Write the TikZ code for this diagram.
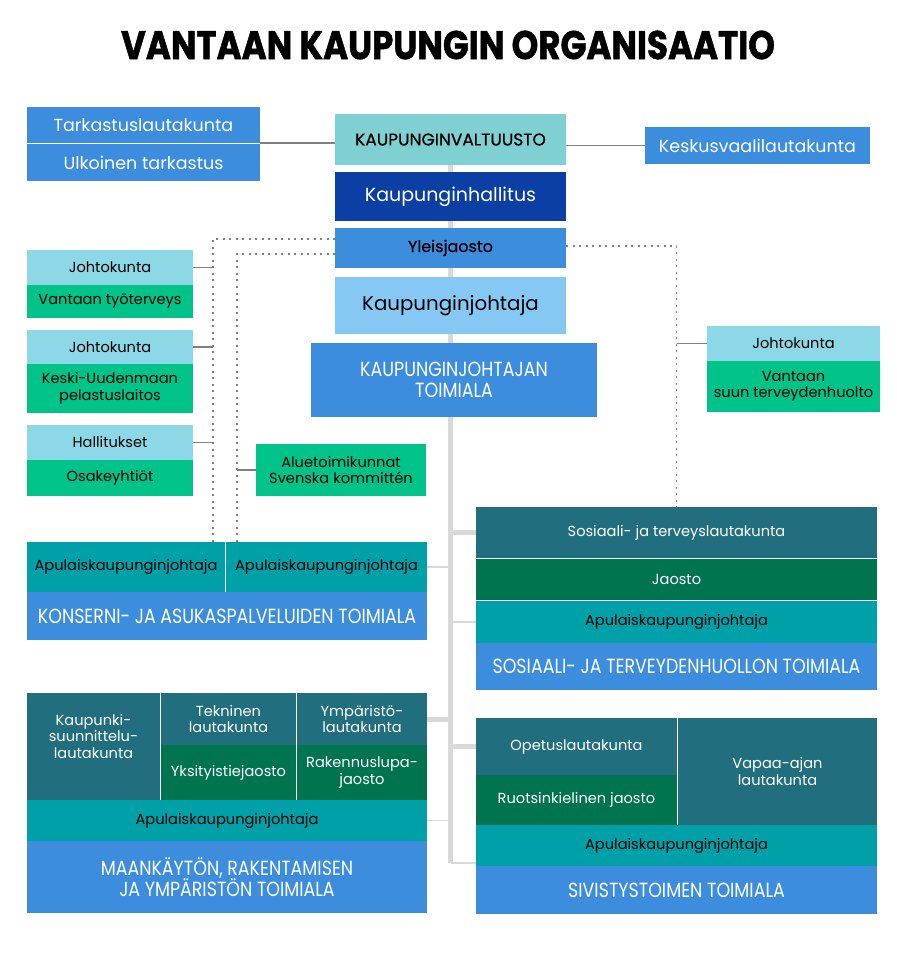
\documentclass[tikz,border=0pt]{standalone}
\usepackage{fontspec}
\setmainfont{Poppins}
\newfontfamily\capsfont[FakeStretch=0.85]{Poppins}
\newfontfamily\medfont[FakeBold=0.6]{Poppins}
\newfontfamily\titlefont[FakeStretch=0.85,FakeBold=1.2]{Poppins}
\usepackage{tikz}
\usetikzlibrary{positioning,backgrounds}
\definecolor{vblue}{HTML}{3C8DDE}
\definecolor{vdark}{HTML}{0B3FA3}
\definecolor{vlight}{HTML}{86C8F4}
\definecolor{vaqua}{HTML}{7FD0D3}
\definecolor{vcyan}{HTML}{8CD8E7}
\definecolor{vgreen}{HTML}{00C389}
\definecolor{vpetrol}{HTML}{216F7E}
\definecolor{vforest}{HTML}{00734F}
\definecolor{vteal}{HTML}{00A0A9}
\definecolor{vtrunk}{HTML}{D9D9D9}
\definecolor{vline}{HTML}{808080}

\begin{document}
\begin{tikzpicture}[x=1pt,y=-1pt,node distance=0pt,inner sep=0pt,outer sep=0pt]
  \tikzstyle{box}=[rectangle,align=center,font=\fontsize{14.6}{16.5}\selectfont]
  \tikzstyle{bluebox}=[box,fill=vblue,text=white]
  \tikzstyle{darkbox}=[box,fill=vdark,text=white]
  \tikzstyle{lightbox}=[box,fill=vlight,text=black]
  \tikzstyle{aquabox}=[box,fill=vaqua,text=black]
  \tikzstyle{cyanbox}=[box,fill=vcyan,text=black]
  \tikzstyle{greenbox}=[box,fill=vgreen,text=black]
  \tikzstyle{petrolbox}=[box,fill=vpetrol,text=white]
  \tikzstyle{forestbox}=[box,fill=vforest,text=white]
  \tikzstyle{tealbox}=[box,fill=vteal,text=black]
  \tikzstyle{capstext}=[font=\capsfont\fontsize{20.5}{21}\selectfont]
  \tikzstyle{trunk}=[vtrunk,line width=5pt]
  \tikzstyle{twig}=[vtrunk,line width=1.2pt]
  \tikzstyle{link}=[vline,line width=1.2pt]
  \tikzstyle{dotline}=[vline,line width=1.5pt,dash pattern=on 2pt off 4.5pt]

  \useasboundingbox (0,0) rectangle (896,957);
  \node[font=\titlefont\bfseries\fontsize{40}{42}\selectfont] (title) at (448,45) {VANTAAN KAUPUNGIN ORGANISAATIO};

  \node[aquabox,minimum width=231pt,minimum height=51pt,anchor=north west,font=\medfont\fontsize{17}{19}\selectfont] (valt) at (335,114) {KAUPUNGINVALTUUSTO};
  \node[darkbox,minimum width=231pt,minimum height=49pt,font=\fontsize{19}{21}\selectfont] (hall) [below=7pt of valt] {Kaupunginhallitus};
  \node[bluebox,text=black,minimum width=231pt,minimum height=40pt,font=\medfont\fontsize{16}{18}\selectfont] (ylei) [below=7pt of hall] {Yleisjaosto};
  \node[lightbox,minimum width=231pt,minimum height=57pt,font=\fontsize{19.8}{21}\selectfont] (kjoht) [below=9pt of ylei] {Kaupunginjohtaja};
  \node[bluebox,capstext,minimum width=286pt,minimum height=74pt,anchor=north west] (ktoim) at (311,343) {KAUPUNGINJOHTAJAN\\TOIMIALA};

  \node[bluebox,minimum width=233pt,minimum height=36pt,anchor=north west,font=\fontsize{17.5}{20}\selectfont] (tark) at (27,107) {Tarkastuslautakunta};
  \node[bluebox,minimum width=233pt,minimum height=37pt,font=\fontsize{17.5}{20}\selectfont] (ulko) [below=1pt of tark] {Ulkoinen tarkastus};
  \node[bluebox,minimum width=225pt,minimum height=37pt,anchor=north west,font=\fontsize{17.5}{20}\selectfont] (kesk) at (645,127) {Keskusvaalilautakunta};

  \node[cyanbox,minimum width=166pt,minimum height=35pt,anchor=north west] (joht1) at (27,250) {Johtokunta};
  \node[greenbox,minimum width=166pt,minimum height=33pt] (tyot) [below=of joht1] {Vantaan työterveys};
  \node[cyanbox,minimum width=166pt,minimum height=34pt,anchor=north west] (joht2) at (27,330) {Johtokunta};
  \node[greenbox,minimum width=166pt,minimum height=49pt] (pela) [below=of joht2] {Keski-Uudenmaan\\pelastuslaitos};
  \node[cyanbox,minimum width=166pt,minimum height=35pt,anchor=north west] (hallk) at (27,425) {Hallitukset};
  \node[greenbox,minimum width=166pt,minimum height=36pt] (osak) [below=of hallk] {Osakeyhtiöt};
  \node[greenbox,minimum width=170pt,minimum height=52pt,anchor=north west] (alue) at (256,444) {Aluetoimikunnat\\Svenska kommittén};
  \node[cyanbox,minimum width=173pt,minimum height=35pt,anchor=north west] (joht3) at (707,326) {Johtokunta};
  \node[greenbox,minimum width=173pt,minimum height=51pt] (suun) [below=of joht3] {Vantaan\\suun terveydenhuolto};

  \node[tealbox,minimum width=198pt,minimum height=50pt,anchor=north west] (apu1) at (27,542) {Apulaiskaupunginjohtaja};
  \node[tealbox,minimum width=201pt,minimum height=50pt] (apu2) [right=1pt of apu1] {Apulaiskaupunginjohtaja};
  \node[bluebox,capstext,minimum width=400pt,minimum height=48pt,anchor=north west] (ktoim2) at (apu1.south west) {KONSERNI- JA ASUKASPALVELUIDEN TOIMIALA};

  \node[petrolbox,minimum width=401pt,minimum height=51pt,anchor=north west] (sote) at (476,507) {Sosiaali- ja terveyslautakunta};
  \node[forestbox,minimum width=401pt,minimum height=41pt] (jaos) [below=1pt of sote] {Jaosto};
  \node[tealbox,minimum width=401pt,minimum height=42pt] (apu3) [below=1pt of jaos] {Apulaiskaupunginjohtaja};
  \node[bluebox,capstext,minimum width=401pt,minimum height=47pt] (stoim) [below=of apu3] {SOSIAALI- JA TERVEYDENHUOLLON TOIMIALA};

  \node[petrolbox,minimum width=133pt,minimum height=107pt,anchor=north west] (kslk) at (27,693) {Kaupunki-\\suunnittelu-\\lautakunta\\[4pt]};
  \node[petrolbox,minimum width=135pt,minimum height=52pt,anchor=north west] (tekn) at (161,693) {Tekninen\\lautakunta};
  \node[petrolbox,minimum width=130pt,minimum height=52pt,anchor=north west] (ymp) at (297,693) {Ympäristö-\\lautakunta};
  \node[forestbox,minimum width=135pt,minimum height=55pt] (yksi) [below=of tekn] {Yksityistiejaosto};
  \node[forestbox,minimum width=130pt,minimum height=55pt] (rakl) [below=of ymp] {Rakennuslupa-\\jaosto};
  \node[tealbox,minimum width=400pt,minimum height=41pt,anchor=north west] (apu4) at (27,800) {Apulaiskaupunginjohtaja};
  \node[bluebox,capstext,minimum width=400pt,minimum height=72pt] (mtoim) [below=of apu4] {MAANKÄYTÖN, RAKENTAMISEN\\JA YMPÄRISTÖN TOIMIALA};

  \node[petrolbox,minimum width=201pt,minimum height=57pt,anchor=north west] (opet) at (476,718) {Opetuslautakunta};
  \node[forestbox,minimum width=201pt,minimum height=50pt] (ruot) [below=of opet] {Ruotsinkielinen jaosto};
  \node[petrolbox,minimum width=199pt,minimum height=107pt,anchor=north west] (vapa) at (678,718) {Vapaa-ajan\\lautakunta};
  \node[tealbox,minimum width=401pt,minimum height=41pt,anchor=north west] (apu5) at (476,825) {Apulaiskaupunginjohtaja};
  \node[bluebox,capstext,minimum width=401pt,minimum height=48pt] (sivt) [below=of apu5] {SIVISTYSTOIMEN TOIMIALA};

  \coordinate (dl) at ([xshift=-12pt]apu1.north east);
  \coordinate (dr) at ([xshift=11pt]apu2.north west);
  \coordinate (bot) at ([yshift=3pt]valt.south |- apu5.south);

  \begin{pgfonlayer}{background}
  \draw[trunk] (valt.south) -- (bot);
  \end{pgfonlayer}
  \path
(sote.west) edge [trunk] (sote.west -| bot)
(ymp.east)  edge [trunk] (ymp.east -| bot)
(opet.west) edge [trunk] (opet.west -| bot)
(apu2.east) edge [twig]  (apu2.east -| bot)
(apu3.west) edge [twig]  (apu3.west -| bot)
(apu4.east) edge [twig]  (apu4.east -| bot)
(bot)       edge [twig]  (bot -| apu5.west)
(tark.south east) edge [link] (tark.south east -| valt.west)
(kesk.west)  edge [link] (kesk.west -| valt.east)
(joht1.east) edge [link] (joht1.east -| dl)
(joht2.east) edge [link] (joht2.east -| dl)
(hallk.east) edge [link] (hallk.east -| dl)
(alue.west)  edge [link] (alue.west -| dr)
(joht3.west) edge [link] (joht3.west -| sote.north)
;
  \draw[dotline] ([yshift=9pt]ylei.west) -| (dl);
  \draw[dotline] ([yshift=-6pt]ylei.west) -| (dr);
  \draw[dotline] ([yshift=2pt]ylei.east) -| (sote.north);

\end{tikzpicture}
\end{document}
